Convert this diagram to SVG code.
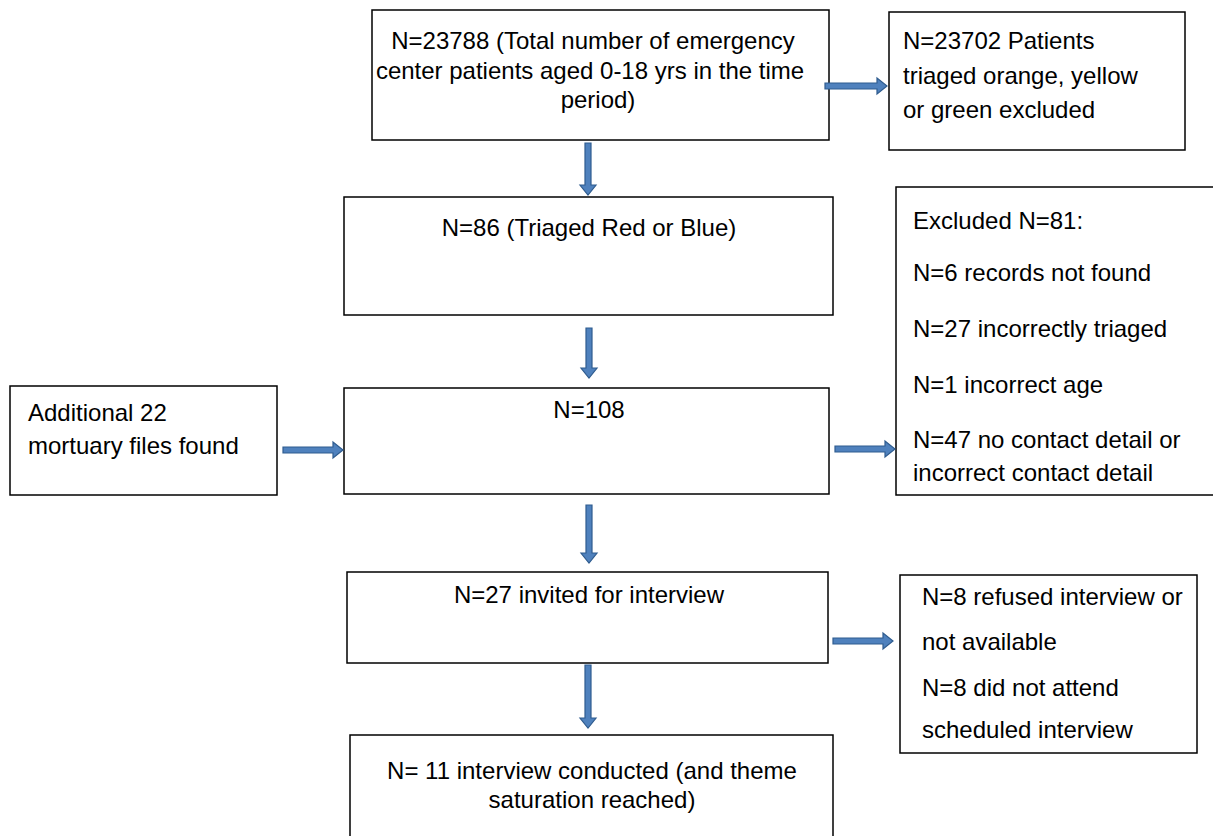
<svg xmlns="http://www.w3.org/2000/svg" width="1213" height="836" viewBox="0 0 1213 836">
<style>
.box{fill:#fff;stroke:#000;stroke-width:1.5}
text{font-family:"Liberation Sans",Arial,sans-serif;font-size:24px;fill:#000}
.c{text-anchor:middle}
.arr{fill:#4F81BD;stroke:#2F5C8F;stroke-width:1.2}
</style>
<rect width="1213" height="836" fill="#fff"/>
<g id="n1"><rect class="box" x="372" y="10" width="457" height="130"/>
<text class="c" x="593" y="49">N=23788 (Total number of emergency</text>
<text class="c" x="590" y="79">center patients aged 0-18 yrs in the time</text>
<text class="c" x="598" y="108">period)</text></g>
<g id="n2"><rect class="box" x="889" y="12" width="296" height="138"/>
<text x="903" y="49">N=23702 Patients</text>
<text x="903" y="84">triaged orange, yellow</text>
<text x="903" y="118">or green excluded</text></g>
<g id="n3"><rect class="box" x="344" y="197" width="489" height="118"/>
<text class="c" x="589" y="236">N=86 (Triaged Red or Blue)</text></g>
<g id="n4"><rect class="box" x="896" y="187" width="330" height="308"/>
<text x="913" y="229">Excluded N=81:</text>
<text x="913" y="281">N=6 records not found</text>
<text x="913" y="337">N=27 incorrectly triaged</text>
<text x="913" y="393">N=1 incorrect age</text>
<text x="913" y="448">N=47 no contact detail or</text>
<text x="913" y="481">incorrect contact detail</text></g>
<g id="n5"><rect class="box" x="10" y="386" width="267" height="109"/>
<text x="28" y="421">Additional 22</text>
<text x="28" y="454">mortuary files found</text></g>
<g id="n6"><rect class="box" x="344" y="388" width="485" height="106"/>
<text class="c" x="589" y="418">N=108</text></g>
<g id="n7"><rect class="box" x="347" y="572" width="481" height="91"/>
<text class="c" x="589" y="603">N=27 invited for interview</text></g>
<g id="n8"><rect class="box" x="900" y="575" width="297" height="178"/>
<text x="922" y="605">N=8 refused interview or</text>
<text x="922" y="650">not available</text>
<text x="922" y="696">N=8 did not attend</text>
<text x="922" y="738">scheduled interview</text></g>
<g id="n9"><rect class="box" x="350" y="735" width="483" height="110"/>
<text class="c" x="592" y="779">N= 11 interview conducted (and theme</text>
<text class="c" x="592" y="808">saturation reached)</text></g>
<g id="connectors">
<path class="arr" d="M585,143 h6 v42 h5 l-8,10 l-8,-10 h5 z"/>
<path class="arr" d="M586,328 h6 v40 h5 l-8,10 l-8,-10 h5 z"/>
<path class="arr" d="M586,505 h6 v48 h5 l-8,10 l-8,-10 h5 z"/>
<path class="arr" d="M585,665 h6 v53 h5 l-8,10 l-8,-10 h5 z"/>
<path class="arr" d="M825,83 v6 h52 v5 l10,-8 l-10,-8 v5 z"/>
<path class="arr" d="M283,447 v6 h50 v5 l10,-8 l-10,-8 v5 z"/>
<path class="arr" d="M835,446 v6 h50 v5 l10,-8 l-10,-8 v5 z"/>
<path class="arr" d="M833,638 v6 h50 v5 l10,-8 l-10,-8 v5 z"/>
</g>
</svg>
